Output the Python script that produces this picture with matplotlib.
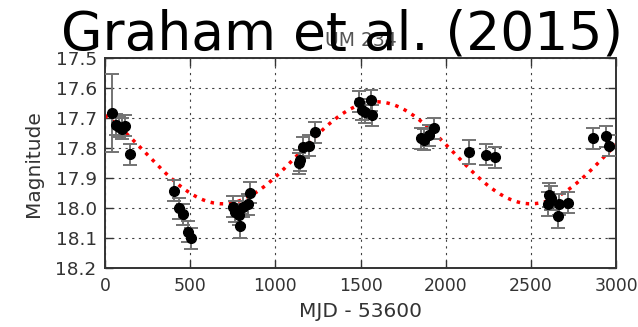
import numpy as np
import matplotlib
matplotlib.use('Agg')
import matplotlib.pyplot as plt

# light curve of UM 234
mjd = [43, 65, 82, 98, 118, 147, 406, 437, 457, 490, 504,
       751, 765, 784, 790, 810, 837, 853,
       1139, 1145, 1163, 1196, 1235,
       1490, 1510, 1525, 1559, 1569,
       1853, 1873, 1902, 1931,
       2137, 2237, 2292,
       2602, 2608, 2618, 2661, 2667, 2719,
       2866, 2943, 2961]
mag = [17.683, 17.722, 17.728, 17.735, 17.725, 17.82, 17.941, 18.0, 18.02, 18.078, 18.1,
       17.995, 18.011, 18.022, 18.059, 17.995, 17.986, 17.948,
       17.85, 17.84, 17.797, 17.792, 17.747,
       17.645, 17.672, 17.68, 17.639, 17.689,
       17.767, 17.772, 17.756, 17.733,
       17.811, 17.822, 17.83,
       17.986, 17.956, 17.967, 18.026, 17.986, 17.981,
       17.767, 17.759, 17.791]
err = [0.13, 0.035, 0.035, 0.035, 0.035, 0.035, 0.035, 0.035, 0.035, 0.035, 0.035,
       0.035, 0.035, 0.035, 0.04, 0.035, 0.035, 0.035,
       0.035, 0.035, 0.035, 0.035, 0.035,
       0.035, 0.035, 0.035, 0.035, 0.035,
       0.035, 0.035, 0.035, 0.035,
       0.04, 0.035, 0.035,
       0.04, 0.04, 0.04, 0.04, 0.035, 0.035,
       0.035, 0.035, 0.035]

# sinusoid model: mean, amplitude, period, time of minimum
m0, amp, period, t_min = 17.815, 0.17, 1810.0, 690.0

x_ticks = [0, 500, 1000, 1500, 2000, 2500, 3000]
y_ticks = [17.5, 17.6, 17.7, 17.8, 17.9, 18.0, 18.1, 18.2]

plt.rcParams['font.family'] = ['DejaVu Sans']
txt = '#333333'

fig = plt.figure(figsize=(6.38, 3.27), dpi=100)
ax = fig.add_axes([0.1646, 0.1795, 0.801, 0.6422])

t = np.linspace(0, 3000, 600)
ax.plot(t, m0 + amp * np.cos(2 * np.pi * (t - t_min) / period),
        color='red', ls=':', lw=2.5, zorder=2)

ax.errorbar(mjd, mag, yerr=err, fmt='o', color='black', ms=7,
            ecolor='0.45', elinewidth=1.4, capsize=5, capthick=1.4, zorder=3)

ax.set_xlim(0, 3000)
ax.set_ylim(18.2, 17.5)
ax.set_xticks(x_ticks)
ax.set_yticks(y_ticks)
ax.set_yticklabels(['%.1f' % v for v in y_ticks])
ax.grid(True, color='0.25', ls=(0, (2, 4)), lw=0.8)
ax.tick_params(direction='in', length=6, width=1, top=True, right=True,
               colors=txt, pad=6)
ax.tick_params(axis='x', labelsize=12.4)
ax.tick_params(axis='y', labelsize=13.3)
for s in ax.spines.values():
    s.set_color(txt)
    s.set_linewidth(1.4)

ax.set_xlabel('MJD - 53600', fontsize=14.5, color=txt, labelpad=5)
ax.set_ylabel('Magnitude', fontsize=14.5, color=txt, labelpad=9)
ax.set_title('UM 234', fontsize=13.5, color='#555555', pad=9)

fig.text(342 / 638, 1 - 49 / 327, 'Graham et al. (2015)', fontsize=38.5,
         family=['DejaVu Sans'], color='black',
         ha='center', va='baseline')

fig.savefig('out.png', dpi=100)
